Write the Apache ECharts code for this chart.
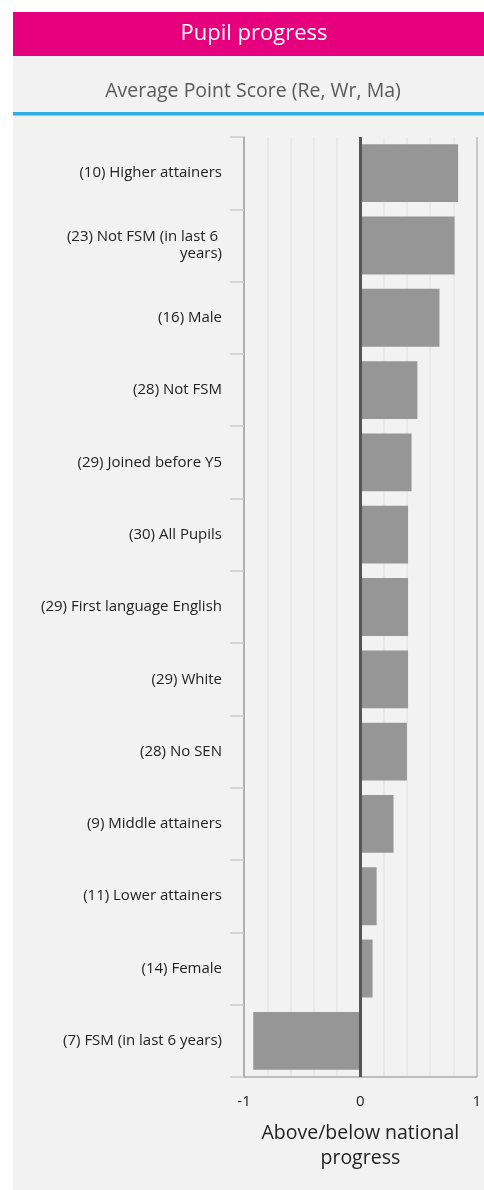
<!DOCTYPE html>
<html>
<head>
<meta charset="utf-8">
<script src="https://cdn.jsdelivr.net/npm/echarts@6/dist/echarts.min.js"></script>
<style>
html,body{margin:0;padding:0;background:#ffffff;}
#chart{width:484px;height:1190px;}
</style>
</head>
<body>
<div id="chart"></div>
<script>
const categories = [
  '(10) Higher attainers',
  '(23) Not FSM (in last 6 years)',
  '(16) Male',
  '(28) Not FSM',
  '(29) Joined before Y5',
  '(30) All Pupils',
  '(29) First language English',
  '(29) White',
  '(28) No SEN',
  '(9) Middle attainers',
  '(11) Lower attainers',
  '(14) Female',
  '(7) FSM (in last 6 years)'
];
const values = [0.84, 0.81, 0.68, 0.49, 0.44, 0.41, 0.41, 0.41, 0.40, 0.285, 0.14, 0.105, -0.92];
const tickLabels = ['-1', '0', '1'];
const titleText = 'Pupil progress';
const subtitleText = 'Average Point Score (Re, Wr, Ma)';
const axisNameText = 'Above/below national\nprogress';

const FONT = '"Open Sans", "Noto Sans", sans-serif';
const chart = echarts.init(document.getElementById('chart'), null, {renderer: 'canvas'});

const option = {
  backgroundColor: '#ffffff',
  animation: false,
  graphic: [
    {type: 'rect', shape: {x: 13, y: 56, width: 471, height: 1134}, style: {fill: '#f2f2f2'}, z: -10},
    {type: 'rect', shape: {x: 13, y: 12, width: 471, height: 44}, style: {fill: '#e6007e'}, z: -9},
    {type: 'rect', shape: {x: 13, y: 112, width: 471, height: 3.5}, style: {fill: '#2eaee3'}, z: -9},
    {type: 'text', x: 254, y: 34, z: 5, style: {text: titleText, fill: '#ffffff', font: '22px ' + FONT, textAlign: 'center', textVerticalAlign: 'middle'}},
    {type: 'text', x: 253, y: 91, z: 5, style: {text: subtitleText, fill: '#595959', font: '19.5px ' + FONT, textAlign: 'center', textVerticalAlign: 'middle'}}
  ],
  grid: {left: 244, right: 5.3, top: 137, bottom: 113, containLabel: false},
  xAxis: {
    type: 'value', min: -1, max: 1, interval: 0.2,
    axisLine: {show: true, lineStyle: {color: '#aaaaaa', width: 1.5}},
    axisTick: {show: false},
    axisLabel: {
      margin: 17, color: '#222222', fontFamily: FONT, fontSize: 15,
      formatter: function (v) {
        const r = Math.round(v);
        if (Math.abs(v - r) > 1e-6) return '';
        return tickLabels[r + 1];
      }
    },
    splitLine: {show: true, lineStyle: {
      color: ['#aaaaaa', '#e6e6e6', '#e6e6e6', '#e6e6e6', '#e6e6e6', '#e6e6e6', '#e6e6e6', '#e6e6e6', '#e6e6e6', '#e6e6e6', '#bbbbbb'],
      width: 1.5}},
    name: axisNameText,
    nameLocation: 'middle',
    nameGap: 44,
    nameTextStyle: {color: '#222222', fontFamily: FONT, fontSize: 19.5, lineHeight: 25}
  },
  yAxis: {
    type: 'category', data: categories, inverse: true,
    axisLine: {show: true, onZero: false, lineStyle: {color: '#aaaaaa', width: 1.5}},
    axisTick: {show: true, length: 14, lineStyle: {color: '#cccccc', width: 1.5}},
    axisLabel: {
      margin: 22, color: '#222222', fontFamily: FONT, fontSize: 15, lineHeight: 17,
      width: 197, overflow: 'break', align: 'right'
    },
    splitLine: {show: false}
  },
  series: [{
    type: 'bar', data: values, barCategoryGap: '20%',
    itemStyle: {color: '#969696'},
    markLine: {
      silent: true, symbol: 'none', label: {show: false},
      lineStyle: {color: '#555555', width: 3, type: 'solid'},
      data: [{xAxis: 0}]
    }
  }]
};
chart.setOption(option);
</script>
</body>
</html>
